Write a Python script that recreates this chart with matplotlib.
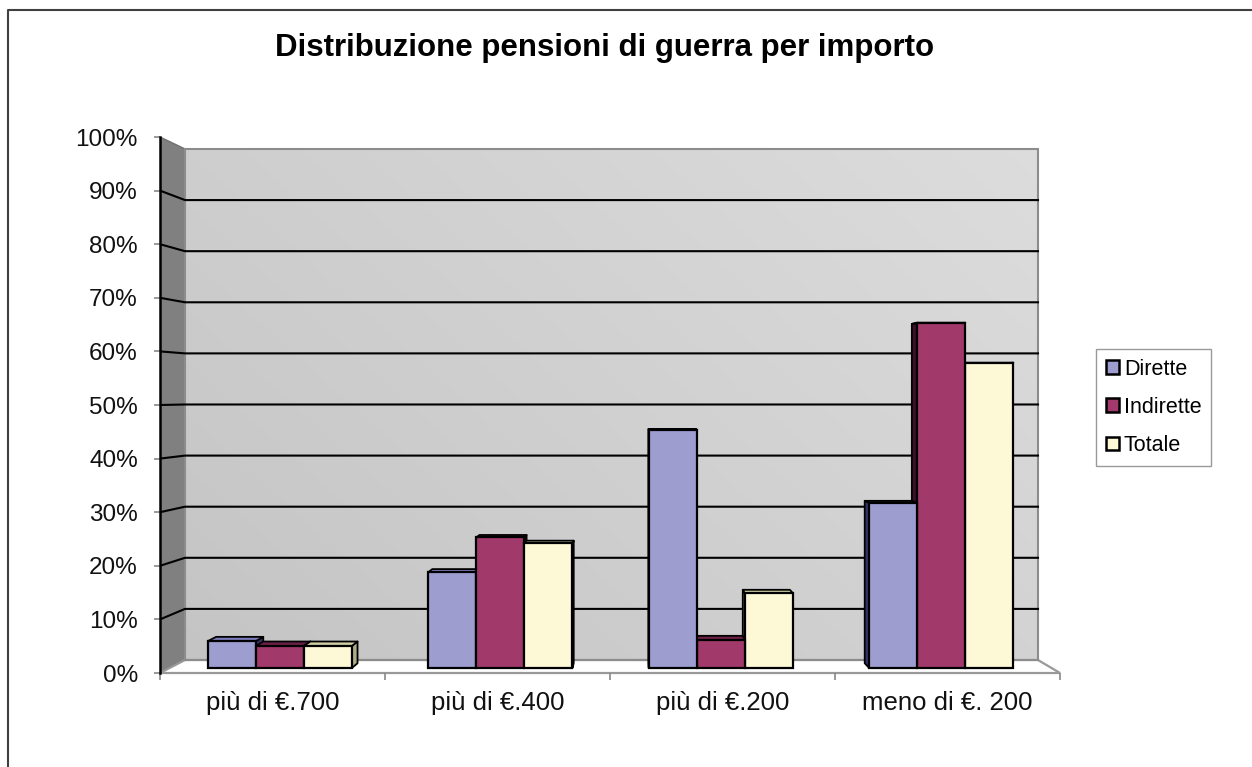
import numpy as np
import matplotlib
matplotlib.use("Agg")
import matplotlib.pyplot as plt
from matplotlib.patches import Polygon, Patch
from matplotlib.lines import Line2D

plt.rcParams['font.family'] = ['Liberation Sans', 'DejaVu Sans']

# data (percent)
categories = ["più di €.700", "più di €.400", "più di €.200", "meno di €. 200"]
series = ["Dirette", "Indirette", "Totale"]
dirette = [5.1, 18.2, 45.3, 31.4]
indirette = [4.2, 24.8, 5.3, 65.6]
totale = [4.2, 23.7, 14.2, 58.0]
yticks = list(range(0, 101, 10))

front_col = ["#9d9dd0", "#a1396b", "#fdf9d6"]
top_col = ["#7c7cbc", "#6c2147", "#d0cea4"]
side_col = ["#34346a", "#3b1029", "#aeac86"]

W, H = 1252, 767
fig = plt.figure(figsize=(W / 100, H / 100), dpi=100)

# front plane of the 3d box in pixels
X0, X1, Y0, Y1 = 160, 1060, 673, 137
ax = fig.add_axes([X0 / W, 1 - Y0 / H, (X1 - X0) / W, (Y0 - Y1) / H])


def proj(u, v, d):
    # depth d: 0 = front plane, 1 = back wall (simple perspective shrink)
    x = -0.5 + 0.111 * d + (u + 0.5) * (1 - 0.0522 * d)
    y = 2.425 * d + v * (1 - 0.0466 * d)
    return x, y


# back wall with a soft gradient
wall = [proj(-0.5, 0, 1), proj(3.5, 0, 1), proj(3.5, 100, 1), proj(-0.5, 100, 1)]
wall_poly = Polygon(wall, closed=True, facecolor="none", edgecolor="#8c8c8c",
                    lw=1.5, zorder=1.2)
ax.add_patch(wall_poly)
gx, gy = np.meshgrid(np.linspace(0, 1, 200), np.linspace(0, 1, 200))
g = 0.77 + 0.095 * (0.6 * gx + 0.4 * gy)
grad = np.dstack([g, g, g])
img = ax.imshow(grad, origin="lower",
                extent=[wall[0][0], wall[1][0], wall[0][1], wall[2][1]],
                aspect="auto", interpolation="bilinear", zorder=1)
img.set_clip_path(wall_poly)

# side wall and floor
side = [proj(-0.5, 0, 0), proj(-0.5, 0, 1), proj(-0.5, 100, 1), proj(-0.5, 100, 0)]
ax.add_patch(Polygon(side, closed=True, facecolor="#808080", edgecolor="#707070",
                     lw=1, zorder=1.1))
floor = [proj(-0.5, 0, 0), proj(3.5, 0, 0), proj(3.5, 0, 1), proj(-0.5, 0, 1)]
ax.add_patch(Polygon(floor, closed=True, facecolor="white", edgecolor="#999999",
                     lw=1.6, zorder=1.1, clip_on=False))

# gridlines on wall and side wall
for v in yticks[1:-1]:
    a, b, c = proj(-0.5, v, 0), proj(-0.5, v, 1), proj(3.5, v, 1)
    ax.plot([a[0], b[0], c[0]], [a[1], b[1], c[1]], color="black", lw=1.5,
            zorder=1.5, solid_joinstyle="miter")

# 3d bars
values = [dirette, indirette, totale]
bw = 0.218
df, db = 0.385, 0.75
u_vanish = 1.63
bars = []
for i in range(len(categories)):
    for j in range(len(series)):
        u = i + (j - 1) * bw
        bars.append((abs(u - u_vanish), i, j, u))
bars.sort(reverse=True)

for k, (_, i, j, u) in enumerate(bars):
    v = values[j][i]
    ul, ur = u - bw / 2, u + bw / 2
    z = 3 + k * 0.01
    # side face toward the vanishing point
    us = ur if u < u_vanish else ul
    sf = [proj(us, 0, df), proj(us, v, df), proj(us, v, db), proj(us, 0, db)]
    ax.add_patch(Polygon(sf, closed=True, facecolor=side_col[j], edgecolor="black",
                         lw=1.3, zorder=z, joinstyle="round"))
    tf = [proj(ul, v, df), proj(ur, v, df), proj(ur, v, db), proj(ul, v, db)]
    ax.add_patch(Polygon(tf, closed=True, facecolor=top_col[j], edgecolor="black",
                         lw=1.3, zorder=z + 0.001, joinstyle="round"))
    xl, yb = proj(ul, 0, df)
    xr, yt = proj(ur, v, df)
    ax.bar((xl + xr) / 2, yt - yb, width=xr - xl, bottom=yb, color=front_col[j],
           edgecolor="black", lw=1.6, zorder=z + 0.002)

ax.set_xlim(-0.5, 3.5)
ax.set_ylim(0, 100)

for s in ["top", "right", "bottom"]:
    ax.spines[s].set_visible(False)
ax.spines["left"].set_color("black")
ax.spines["left"].set_linewidth(1.8)
ax.spines["left"].set_zorder(2)

ax.set_yticks(yticks)
ax.set_yticklabels([f"{t}%" for t in yticks], fontsize=17.5, color="#111111")
ax.tick_params(axis="y", length=4, width=1.2, color="#888888", pad=12)

ax.set_xticks(range(len(categories)))
ax.set_xticklabels(categories, fontsize=18.5, color="#111111")
ax.set_xticks(np.arange(-0.5, 4, 1), minor=True)
ax.tick_params(axis="x", which="major", length=0, pad=13)
ax.tick_params(axis="x", which="minor", length=5, width=1.2, color="#888888")

# legend
handles = [Patch(facecolor=front_col[j], edgecolor="black", lw=1.8) for j in range(3)]
leg = fig.legend(handles, series, loc="upper left",
                 bbox_to_anchor=(1096 / W, 1 - 349 / H), borderaxespad=0,
                 fontsize=15.5, frameon=True, fancybox=False, handlelength=0.6,
                 handleheight=0.6, handletextpad=0.25, labelspacing=0.8,
                 borderpad=0.45)
leg.get_frame().set_edgecolor("#808080")
leg.get_frame().set_linewidth(1)

fig.text(605 / W, 1 - 48 / H, "Distribuzione pensioni di guerra per importo",
         ha="center", va="center", fontsize=22.5, fontweight="bold")

# outer chart border (top and left edges visible)
fig.add_artist(Line2D([8 / W, 8 / W, 1], [0, 1 - 10 / H, 1 - 10 / H],
                      color="#404040", lw=1.5))

fig.savefig("out.png", dpi=100, facecolor="white")
